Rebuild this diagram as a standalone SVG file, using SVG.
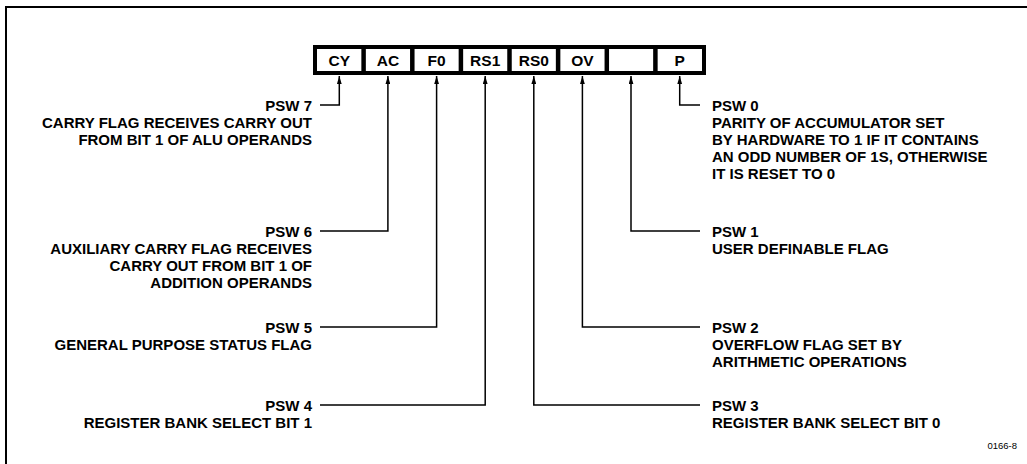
<svg xmlns="http://www.w3.org/2000/svg" width="1027" height="464" viewBox="0 0 1027 464">
<style>
.frame{fill:none;stroke:#000;stroke-width:2}
.box{fill:#fff;stroke:#000;stroke-width:4}
.div{stroke:#000;stroke-width:4.5}
.cell{font-family:"Liberation Sans",Arial,sans-serif;font-weight:bold;font-size:15.5px;text-anchor:middle;fill:#000}
.lbl{font-family:"Liberation Sans",Arial,sans-serif;font-weight:bold;font-size:15px;fill:#000}
.l{text-anchor:end}
.r{text-anchor:start}
.conn{fill:none;stroke:#000;stroke-width:1.5}
.note{font-family:"Liberation Sans",Arial,sans-serif;font-size:9.5px;text-anchor:end;fill:#000}
</style>
<defs>
<marker id="ah" viewBox="0 0 10 6" refX="10" refY="3" markerWidth="8" markerHeight="5" markerUnits="userSpaceOnUse" orient="auto">
<path d="M0,0 L10,3 L0,6 Z" fill="#000"/>
</marker>
</defs>
<g id="frame">
<path class="frame" d="M6,464 V7 H1027"/>
</g>
<g id="psw-register">
<rect class="box" x="315" y="47" width="389" height="26"/>
<g id="cell-cy"><text class="cell" x="339.3" y="66">CY</text></g>
<line class="div" x1="363.6" y1="47" x2="363.6" y2="73"/>
<g id="cell-ac"><text class="cell" x="387.9" y="66">AC</text></g>
<line class="div" x1="412.3" y1="47" x2="412.3" y2="73"/>
<g id="cell-f0"><text class="cell" x="436.6" y="66">F0</text></g>
<line class="div" x1="460.9" y1="47" x2="460.9" y2="73"/>
<g id="cell-rs1"><text class="cell" x="485.2" y="66">RS1</text></g>
<line class="div" x1="509.5" y1="47" x2="509.5" y2="73"/>
<g id="cell-rs0"><text class="cell" x="533.8" y="66">RS0</text></g>
<line class="div" x1="558.1" y1="47" x2="558.1" y2="73"/>
<g id="cell-ov"><text class="cell" x="582.4" y="66">OV</text></g>
<line class="div" x1="606.8" y1="47" x2="606.8" y2="73"/>
<g id="cell-blank"></g>
<line class="div" x1="655.4" y1="47" x2="655.4" y2="73"/>
<g id="cell-p"><text class="cell" x="679.7" y="66">P</text></g>
</g>
<g id="connectors">
<path class="conn" d="M320,105 H339.3 V76" marker-end="url(#ah)"/>
<path class="conn" d="M320,231 H387.9 V76" marker-end="url(#ah)"/>
<path class="conn" d="M320,327 H436.6 V76" marker-end="url(#ah)"/>
<path class="conn" d="M320,405 H485.2 V76" marker-end="url(#ah)"/>
<path class="conn" d="M700,405 H533.8 V76" marker-end="url(#ah)"/>
<path class="conn" d="M700,327 H582.4 V76" marker-end="url(#ah)"/>
<path class="conn" d="M700,231 H631 V76" marker-end="url(#ah)"/>
<path class="conn" d="M700,105 H679.7 V76" marker-end="url(#ah)"/>
</g>
<g id="label-psw7" class="lbl l">
<text x="312" y="110.5">PSW 7</text>
<text x="312" y="127.5">CARRY FLAG RECEIVES CARRY OUT</text>
<text x="312" y="144.5">FROM BIT 1 OF ALU OPERANDS</text>
</g>
<g id="label-psw6" class="lbl l">
<text x="312" y="236.5">PSW 6</text>
<text x="312" y="253.5">AUXILIARY CARRY FLAG RECEIVES</text>
<text x="312" y="270.5">CARRY OUT FROM BIT 1 OF</text>
<text x="312" y="287.5">ADDITION OPERANDS</text>
</g>
<g id="label-psw5" class="lbl l">
<text x="312" y="332.5">PSW 5</text>
<text x="312" y="349.5">GENERAL PURPOSE STATUS FLAG</text>
</g>
<g id="label-psw4" class="lbl l">
<text x="312" y="410.5">PSW 4</text>
<text x="312" y="427.5">REGISTER BANK SELECT BIT 1</text>
</g>
<g id="label-psw0" class="lbl r">
<text x="712" y="110.5">PSW 0</text>
<text x="712" y="127.5">PARITY OF ACCUMULATOR SET</text>
<text x="712" y="144.5">BY HARDWARE TO 1 IF IT CONTAINS</text>
<text x="712" y="161.5">AN ODD NUMBER OF 1S, OTHERWISE</text>
<text x="712" y="178.5">IT IS RESET TO 0</text>
</g>
<g id="label-psw1" class="lbl r">
<text x="712" y="236.5">PSW 1</text>
<text x="712" y="253.5">USER DEFINABLE FLAG</text>
</g>
<g id="label-psw2" class="lbl r">
<text x="712" y="332.5">PSW 2</text>
<text x="712" y="349.5">OVERFLOW FLAG SET BY</text>
<text x="712" y="366.5">ARITHMETIC OPERATIONS</text>
</g>
<g id="label-psw3" class="lbl r">
<text x="712" y="410.5">PSW 3</text>
<text x="712" y="427.5">REGISTER BANK SELECT BIT 0</text>
</g>
<g id="figure-number">
<text class="note" x="1017" y="449">0166-8</text>
</g>
</svg>
